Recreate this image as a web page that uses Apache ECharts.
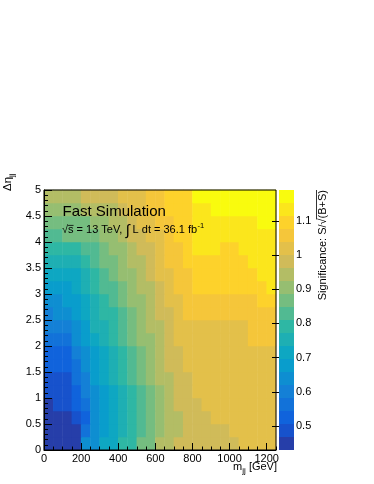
<!DOCTYPE html>
<html><head><meta charset="utf-8">
<script src="https://cdn.jsdelivr.net/npm/echarts@6/dist/echarts.min.js"></script>
<style>html,body{margin:0;padding:0;background:#fff}#c{width:374px;height:484px}</style>
</head><body><div id="c"></div>
<script>
// ---- data ----
const mjjCenters = [25,75,125,175,225,275,325,375,425,475,525,575,625,675,725,775,825,875,925,975,1025,1075,1125,1175,1225];
const detaCenters = [0.125,0.375,0.625,0.875,1.125,1.375,1.625,1.875,2.125,2.375,2.625,2.875,3.125,3.375,3.625,3.875,4.125,4.375,4.625,4.875];
const sigRow00 = [0.45,0.45,0.45,0.45,0.64,0.64,0.72,0.72,0.79,0.79,0.87,0.87,0.94,0.94,0.98,0.98,0.98,0.98,0.98,0.98,0.98,1.02,1.02,1.02,1.02];
const sigRow01 = [0.45,0.45,0.45,0.45,0.56,0.64,0.68,0.72,0.75,0.79,0.83,0.87,0.91,0.94,0.94,0.98,0.98,0.98,0.98,0.98,1.02,1.02,1.02,1.02,1.02];
const sigRow02 = [0.45,0.45,0.45,0.49,0.53,0.64,0.68,0.72,0.75,0.79,0.83,0.87,0.91,0.94,0.94,0.98,0.98,0.98,1.02,1.02,1.02,1.02,1.02,1.02,1.02];
const sigRow03 = [0.45,0.49,0.49,0.53,0.56,0.64,0.68,0.72,0.75,0.79,0.83,0.87,0.91,0.94,0.98,0.98,0.98,1.02,1.02,1.02,1.02,1.02,1.02,1.02,1.02];
const sigRow04 = [0.49,0.49,0.49,0.53,0.60,0.64,0.68,0.72,0.75,0.79,0.83,0.87,0.91,0.94,0.98,0.98,1.02,1.02,1.02,1.02,1.02,1.02,1.02,1.02,1.02];
const sigRow05 = [0.49,0.49,0.49,0.56,0.60,0.68,0.72,0.75,0.79,0.83,0.87,0.91,0.94,0.94,0.98,0.98,1.02,1.02,1.02,1.02,1.02,1.02,1.02,1.02,1.02];
const sigRow06 = [0.53,0.53,0.53,0.56,0.64,0.68,0.72,0.75,0.79,0.83,0.87,0.91,0.94,0.98,0.98,1.02,1.02,1.02,1.02,1.02,1.02,1.02,1.02,1.02,1.02];
const sigRow07 = [0.53,0.53,0.53,0.60,0.64,0.68,0.72,0.75,0.79,0.83,0.87,0.91,0.94,0.98,0.98,1.02,1.02,1.02,1.02,1.02,1.02,1.02,1.02,1.02,1.02];
const sigRow08 = [0.56,0.56,0.56,0.64,0.68,0.72,0.75,0.79,0.83,0.87,0.91,0.91,0.94,0.98,1.02,1.02,1.02,1.02,1.02,1.02,1.02,1.02,1.06,1.06,1.06];
const sigRow09 = [0.60,0.60,0.60,0.64,0.68,0.75,0.75,0.79,0.83,0.87,0.91,0.94,0.94,0.98,1.02,1.02,1.02,1.02,1.02,1.02,1.02,1.02,1.06,1.06,1.06];
const sigRow10 = [0.60,0.64,0.64,0.68,0.72,0.75,0.79,0.79,0.83,0.87,0.91,0.94,0.98,0.98,1.02,1.06,1.06,1.06,1.06,1.06,1.06,1.06,1.06,1.06,1.06];
const sigRow11 = [0.64,0.64,0.68,0.68,0.72,0.75,0.79,0.83,0.87,0.91,0.91,0.94,0.98,1.02,1.02,1.06,1.06,1.06,1.06,1.06,1.06,1.06,1.06,1.10,1.10];
const sigRow12 = [0.68,0.68,0.68,0.72,0.75,0.79,0.83,0.83,0.87,0.91,0.94,0.94,0.98,1.02,1.06,1.06,1.10,1.10,1.10,1.10,1.10,1.10,1.10,1.10,1.13];
const sigRow13 = [0.72,0.72,0.72,0.72,0.75,0.79,0.83,0.87,0.91,0.91,0.94,0.98,1.02,1.02,1.06,1.06,1.10,1.10,1.10,1.10,1.10,1.10,1.10,1.13,1.13];
const sigRow14 = [0.75,0.75,0.75,0.75,0.79,0.83,0.87,0.87,0.91,0.94,0.94,0.98,1.02,1.06,1.06,1.10,1.10,1.10,1.10,1.10,1.10,1.10,1.13,1.13,1.13];
const sigRow15 = [0.79,0.79,0.79,0.79,0.83,0.83,0.87,0.91,0.91,0.94,0.98,0.98,1.02,1.06,1.06,1.10,1.13,1.13,1.13,1.10,1.10,1.13,1.13,1.13,1.13];
const sigRow16 = [0.83,0.83,0.87,0.87,0.87,0.87,0.91,0.91,0.94,0.98,0.98,1.02,1.02,1.06,1.10,1.10,1.13,1.13,1.13,1.13,1.13,1.13,1.13,1.13,1.13];
const sigRow17 = [0.87,0.87,0.87,0.87,0.87,0.91,0.91,0.94,0.94,0.98,1.02,1.02,1.06,1.06,1.10,1.10,1.13,1.13,1.13,1.13,1.13,1.13,1.13,1.17,1.17];
const sigRow18 = [0.91,0.91,0.91,0.91,0.94,0.94,0.94,0.94,0.98,1.02,1.02,1.06,1.06,1.10,1.10,1.10,1.13,1.13,1.17,1.17,1.17,1.17,1.17,1.17,1.17];
const sigRow19 = [0.94,0.94,0.94,0.94,0.98,0.98,0.98,0.98,1.02,1.02,1.02,1.06,1.06,1.10,1.10,1.10,1.17,1.17,1.17,1.17,1.17,1.17,1.17,1.17,1.17];
const zMin = 0.43, zMax = 1.19, nLevels = 20;
const colorbarTicks = [0.5,0.6,0.7,0.8,0.9,1.0,1.1];

// ---- build ----
const FONT = '"Liberation Sans", Arial, Helvetica, sans-serif';
const rows = [sigRow00,sigRow01,sigRow02,sigRow03,sigRow04,sigRow05,sigRow06,sigRow07,sigRow08,sigRow09,
              sigRow10,sigRow11,sigRow12,sigRow13,sigRow14,sigRow15,sigRow16,sigRow17,sigRow18,sigRow19];
const heatData = [];
rows.forEach((row, j) => row.forEach((v, i) => heatData.push([i, j, v])));

// ROOT kBird palette
const st=[0,0.125,0.25,0.375,0.5,0.625,0.75,0.875,1];
const PR=[0.2082,0.0592,0.0780,0.0232,0.1802,0.5301,0.8186,0.9956,0.9764];
const PG=[0.1664,0.3599,0.5041,0.6419,0.7178,0.7492,0.7328,0.7862,0.9832];
const PB=[0.5293,0.8684,0.8385,0.7914,0.6425,0.4662,0.3499,0.1968,0.0539];
function bird(f){
  f=Math.min(1,Math.max(0,f)); let i=0;
  while(i<st.length-2 && f>st[i+1]) i++;
  const t=(f-st[i])/(st[i+1]-st[i]);
  const c=a=>Math.round(255*(a[i]+(a[i+1]-a[i])*t));
  return 'rgb('+c(PR)+','+c(PG)+','+c(PB)+')';
}
const pieces=[];
for(let k=0;k<nLevels;k++){
  const lo=zMin+(zMax-zMin)*k/nLevels, hi=zMin+(zMax-zMin)*(k+1)/nLevels;
  pieces.push({gte:lo, lt:hi+(k===nLevels-1?1e-6:0), color:bird((k+0.99)/nLevels)});
}

const ctx=document.createElement('canvas').getContext('2d');
function tw(s,fs){ctx.font=fs+'px '+FONT; return ctx.measureText(s).width;}
function txt(s,x,y,fs,extra){return Object.assign({type:'text',x:x,y:y,z:100,style:{text:s,font:fs+'px '+FONT,fill:'#000',align:'left',verticalAlign:'middle'}},extra||{});}

const g=[];
g.push(txt('Fast Simulation',62.5,211.5,15));
// second line
(function(){
  let x=62, y=230.4;
  g.push(txt('\u221A',x,y,11)); const wr=tw('\u221A',11); x+=wr;
  g.push(txt('s',x,y,11)); const ws=tw('s',11);
  g.push({type:'line',z:100,shape:{x1:x,y1:y-5,x2:x+ws,y2:y-5},style:{stroke:'#000',lineWidth:0.8}});
  x+=ws;
  const s2=' = 13 TeV, '; g.push(txt(s2,x,y,11)); x+=tw(s2,11);
  g.push(txt('\u222B',x,y+0.5,15)); x+=tw('\u222B',15);
  const s3=' L dt = 36.1 fb'; g.push(txt(s3,x,y,11)); x+=tw(s3,11);
  g.push(txt('-1',x+0.5,y-4.5,7.5));
})();
// x title
(function(){
  const w=tw('m',11)+tw('jj',8)+tw(' [GeV]',11);
  let x=277-w, y=467;
  g.push(txt('m',x,y,11)); x+=tw('m',11);
  g.push(txt('jj',x,y+3.5,8)); x+=tw('jj',8);
  g.push(txt(' [GeV]',x,y,11));
})();
// y title (rotated)
(function(){
  const ch=[txt('\u0394\u03B7',0,0,11.5), txt('jj',tw('\u0394\u03B7',11.5),3.5,8)];
  g.push({type:'group',x:8,y:191,rotation:Math.PI/2,children:ch});
})();
// colorbar title (rotated)
(function(){
  const a='Significance: S/\u221A', b='(B+S)';
  const wa=tw(a,11), wb=tw(b,11);
  const ch=[txt(a,0,0,11), txt(b,wa,0,11),
    {type:'line',z:100,shape:{x1:wa-1,y1:-6.5,x2:wa+wb,y2:-6.5},style:{stroke:'#000',lineWidth:0.8}}];
  g.push({type:'group',x:323,y:190+wa+wb,rotation:Math.PI/2,children:ch});
})();

const axisTxt={color:'#000',fontFamily:FONT,fontSize:11};
const option={
  animation:false,
  backgroundColor:'#fff',
  grid:[
    {left:44,top:190,width:232,height:260,show:true,borderColor:'#000',borderWidth:1,backgroundColor:'transparent',z:10},
    {left:279,top:190,width:15,height:260,show:false}
  ],
  xAxis:[
    {type:'category',gridIndex:0,data:mjjCenters.map(String),show:false,position:'top'},
    {type:'value',gridIndex:0,position:'bottom',offset:0,min:0,max:1250,interval:200,z:11,
     axisLine:{show:true,lineStyle:{color:'#000',width:1}},
     axisTick:{show:true,inside:true,length:7,lineStyle:{color:'#000',width:1}},
     axisLabel:Object.assign({show:true,margin:3,showMaxLabel:false,formatter:v=>String(v)},axisTxt),
     splitLine:{show:false}},
    {type:'value',gridIndex:0,position:'bottom',offset:0,min:0,max:1250,interval:50,z:11,
     axisLine:{show:false},
     axisTick:{show:true,inside:true,length:3.5,lineStyle:{color:'#000',width:1}},
     axisLabel:{show:false},splitLine:{show:false}},
    {type:'value',gridIndex:1,min:0,max:1,show:false}
  ],
  yAxis:[
    {type:'category',gridIndex:0,data:detaCenters.map(String),show:false,position:'right'},
    {type:'value',gridIndex:0,position:'left',offset:0,min:0,max:5,interval:0.5,z:11,
     axisLine:{show:true,lineStyle:{color:'#000',width:1}},
     axisTick:{show:true,inside:true,length:8,lineStyle:{color:'#000',width:1}},
     minorTick:{show:true,splitNumber:5,length:4,lineStyle:{color:'#000',width:1}},
     axisLabel:Object.assign({show:true,margin:3},axisTxt),
     splitLine:{show:false},minorSplitLine:{show:false}},
    {type:'value',gridIndex:1,position:'right',min:zMin,max:zMax,z:11,
     axisLine:{show:false},
     axisTick:{show:true,inside:true,length:7,customValues:colorbarTicks,lineStyle:{color:'#000',width:1}},
     axisLabel:Object.assign({show:true,margin:2,customValues:colorbarTicks},axisTxt),
     splitLine:{show:false}}
  ],
  visualMap:{
    type:'piecewise',seriesIndex:0,dimension:2,pieces:pieces,orient:'vertical',
    left:279,top:190,itemWidth:15,itemHeight:13,itemGap:0,showLabel:false,padding:0,
    selectedMode:false,hoverLink:false,itemSymbol:'rect',z:5
  },
  series:[{type:'heatmap',xAxisIndex:0,yAxisIndex:0,data:heatData,silent:true,
    itemStyle:{borderWidth:0},emphasis:{disabled:true},progressive:0}],
  graphic:{elements:g}
};
const chart=echarts.init(document.getElementById('c'),null,{renderer:'canvas'});
chart.setOption(option);
</script></body></html>
